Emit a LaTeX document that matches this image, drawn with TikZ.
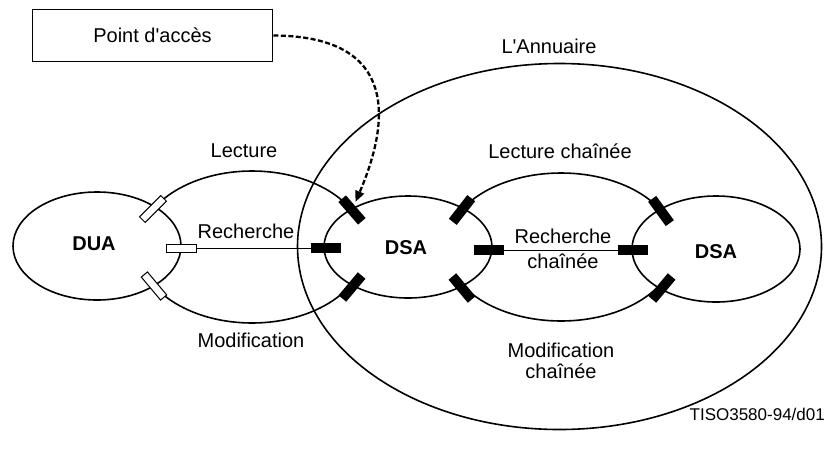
\documentclass[tikz,border=0pt]{standalone}
\usepackage{fontspec}
\setmainfont{Liberation Sans}
\newfontfamily\plainsans{Liberation Sans}
\usetikzlibrary{shapes.geometric,arrows.meta}
\begin{document}
\begin{tikzpicture}[x=1pt,y=-1pt,
  lbl/.style={font=\plainsans\fontsize{20}{24}\selectfont, inner sep=0pt, anchor=base},
  ent/.style={font=\plainsans\fontsize{20}{24}\selectfont\bfseries, inner sep=0pt, anchor=base},
  oval/.style={draw, ellipse, line width=1.6pt, inner sep=0pt},
  agent/.style={oval, fill=white},
  openport/.style={draw, line width=1pt, fill=white, minimum width=30pt, minimum height=8pt, inner sep=0pt},
  blackport/.style={fill=black, minimum width=30pt, minimum height=10pt, inner sep=0pt},
  link/.style={line width=1pt},
  pointer/.style={line width=2.3pt, dash pattern=on 5pt off 2.5pt, -{Triangle[length=11pt,width=9pt]}, shorten >=3pt}
]
\useasboundingbox (0,0) rectangle (826,453);

% Directory
\node[oval, minimum width=524pt, minimum height=366pt] (annuaire) at (559.5,246.5) {};
% Operation ellipses
\node[oval, minimum width=228pt, minimum height=152pt] (lect) at (252,247) {};
\node[oval, minimum width=230pt, minimum height=148pt] (lectch) at (561,247) {};
% Agents
\node[agent, minimum width=168pt, minimum height=108pt] (dua) at (97,246) {};
\node[agent, minimum width=168pt, minimum height=102pt] (dsa1) at (408,247) {};
\node[agent, minimum width=168pt, minimum height=106pt] (dsa2) at (716,249) {};

% Ports
\node[openport, rotate=45] (duan) at (153,209) {};
\node[openport, rotate=-50] (duas) at (154,286) {};
\node[openport] (duae) at (181,248) {};
\node[blackport, rotate=-49] (dsa1nw) at (352,210) {};
\node[blackport, rotate=50] (dsa1sw) at (352,287) {};
\node[blackport] (dsa1w) at (326,248) {};
\node[blackport, rotate=52] (dsa1ne) at (462,210) {};
\node[blackport, rotate=-50] (dsa1se) at (462,288) {};
\node[blackport] (dsa1e) at (489,250) {};
\node[blackport, rotate=-54] (dsa2nw) at (661,211) {};
\node[blackport, rotate=50] (dsa2sw) at (662,288) {};
\node[blackport] (dsa2w) at (633,250) {};

% Links
\draw[link] (duae) -- (dsa1w);
\draw[link] (dsa1e) -- (dsa2w);

% Labels
\node[ent] (tdua) at (94,250) {DUA};
\node[ent] (tdsa1) at (406,254) {DSA};
\node[ent] (tdsa2) at (716,258) {DSA};
\node[lbl] (tlect) at (244,157) {Lecture};
\node[lbl] (trech) at (246,238) {Recherche};
\node[lbl] (tmod) at (251,347) {Modification};
\node[lbl] (tlectch) at (560,158) {Lecture chaînée};
\node[lbl] (trechch) at (563,243) {Recherche};
\node[lbl] (trechch2) at (563,268) {chaînée};
\node[lbl] (tmodch) at (561,357) {Modification};
\node[lbl] (tmodch2) at (561,378) {chaînée};
\node[lbl] (tann) at (549,53) {L'Annuaire};
\node[font=\plainsans\fontsize{17}{20}\selectfont, inner sep=0pt, anchor=base east] (tref) at (825,420) {TISO3580-94/d01};

% Access point
\node[draw, line width=1.6pt, minimum width=240pt, minimum height=52pt, inner sep=0pt, font=\plainsans\fontsize{20}{24}\selectfont] (pa) at (152.5,35.5) {Point d'accès};
\draw[pointer] (pa.east) .. controls (390,36) and (395,110) .. (dsa1nw);
\end{tikzpicture}
\end{document}
